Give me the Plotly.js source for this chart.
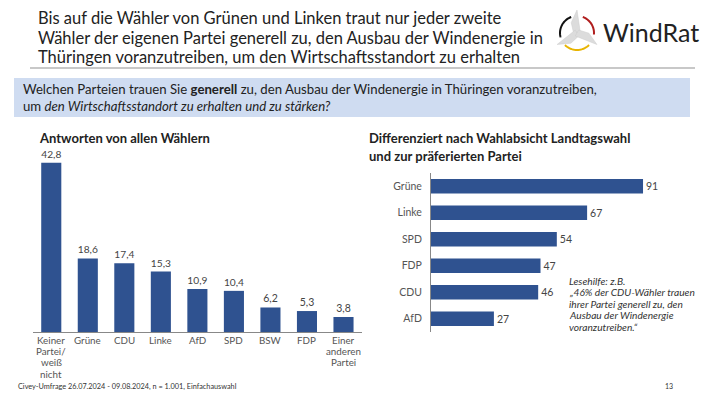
<!DOCTYPE html>
<html><head><meta charset="utf-8">
<script src="https://cdn.plot.ly/plotly-3.0.1.min.js"></script>
<style>html,body{margin:0;padding:0;background:#fff}#chart{width:710px;height:399px}</style>
</head><body><div id="chart"></div>
<script>
// Left chart: answers from all voters
const allCategories = ["Keiner<br>Partei/<br>weiß<br>nicht", "Grüne", "CDU", "Linke", "AfD", "SPD", "BSW", "FDP", "Einer<br>anderen<br>Partei"];
const allValues = [42.8, 18.6, 17.4, 15.3, 10.9, 10.4, 6.2, 5.3, 3.8];
// Right chart: by party preference
const partyCategories = ["Grüne", "Linke", "SPD", "FDP", "CDU", "AfD"];
const partyValues = [91, 67, 54, 47, 46, 27];
// Reading aid text
const readingAid = ["Lesehilfe: z.B.", "„46% der CDU-Wähler trauen", "ihrer Partei generell zu, den", "Ausbau der Windenergie", "voranzutreiben.“"];

const W = 710, H = 399;
const px = x => x / W;
const py = y => 1 - y / H;
const BAR = "#2f5290";
const FONT = "Lato, 'Open Sans', sans-serif";

const traces = [
  {
    type: "bar", x: allCategories, y: allValues, xaxis: "x", yaxis: "y",
    marker: {color: BAR}, text: allValues.map(v => v.toFixed(1).replace(".", ",")),
    textposition: "outside", cliponaxis: false,
    textfont: {family: FONT, size: 10.5, color: "#444"}, hoverinfo: "skip"
  },
  {
    type: "bar", orientation: "h", y: partyCategories, x: partyValues, xaxis: "x2", yaxis: "y2",
    marker: {color: BAR}, text: partyValues.map(String),
    textposition: "outside", cliponaxis: false,
    textfont: {family: FONT, size: 10.5, color: "#444"}, hoverinfo: "skip"
  }
];

function arcPath(cx, cy, r, a0, a1, n) {
  let s = "";
  for (let i = 0; i <= n; i++) {
    const a = (a0 + (a1 - a0) * i / n) * Math.PI / 180;
    const x = cx + r * Math.cos(a), y = cy - r * Math.sin(a);
    s += (i ? " L " : "M ") + px(x) + "," + py(y);
  }
  return s;
}
function polyPath(pts) {
  return pts.map((p, i) => (i ? "L " : "M ") + px(p[0]) + "," + py(p[1])).join(" ") + " Z";
}
const lcx = 577, lcy = 33, lr = 17;
function blade(angleDeg) {
  const a = angleDeg * Math.PI / 180, b = (angleDeg + 90) * Math.PI / 180;
  const L = 23, w = 3.4;
  const tip = [lcx + L * Math.cos(a), lcy - L * Math.sin(a)];
  const b1 = [lcx + w * Math.cos(b), lcy - w * Math.sin(b)];
  const b2 = [lcx - w * Math.cos(b), lcy + w * Math.sin(b)];
  const mid = [lcx + L * 0.45 * Math.cos(a) + 1.7 * w * Math.cos(b), lcy - L * 0.45 * Math.sin(a) - 1.7 * w * Math.sin(b)];
  return polyPath([b2, b1, mid, tip]);
}

const shapes = [
  {type: "line", xref: "paper", yref: "paper", x0: px(30), x1: px(695), y0: py(68), y1: py(68), line: {color: "#c8c8c8", width: 2}},
  {type: "rect", xref: "paper", yref: "paper", x0: px(14), x1: px(690), y0: py(117), y1: py(78), fillcolor: "#cfdcf1", line: {width: 0}, layer: "below"},
  {type: "path", xref: "paper", yref: "paper", path: arcPath(lcx, lcy, lr, 110, 195, 20), line: {color: "#111", width: 2}},
  {type: "path", xref: "paper", yref: "paper", path: arcPath(lcx, lcy, lr, 70, -5, 20), line: {color: "#b01e1e", width: 2}},
  {type: "path", xref: "paper", yref: "paper", path: arcPath(lcx, lcy, lr, 225, 315, 20), line: {color: "#e8b400", width: 2}},
  {type: "path", xref: "paper", yref: "paper", path: blade(90), fillcolor: "#dcdcdc", line: {color: "#cccccc", width: 0.5}},
  {type: "path", xref: "paper", yref: "paper", path: blade(210), fillcolor: "#dcdcdc", line: {color: "#cccccc", width: 0.5}},
  {type: "path", xref: "paper", yref: "paper", path: blade(330), fillcolor: "#dcdcdc", line: {color: "#cccccc", width: 0.5}}
];

const ann = (text, x, y, size, opts = {}) => Object.assign({
  text, xref: "paper", yref: "paper", x: px(x), y: py(y), xanchor: "left", yanchor: "middle",
  showarrow: false, align: "left", font: {family: FONT, size, color: "#222"}
}, opts);

const annotations = [
  ann("Bis auf die Wähler von Grünen und Linken traut nur jeder zweite", 36, 18, 16.5),
  ann("Wähler der eigenen Partei generell zu, den Ausbau der Windenergie in", 36, 38, 16.5),
  ann("Thüringen voranzutreiben, um den Wirtschaftsstandort zu erhalten", 36, 57, 16.5),
  ann("WindRat", 601, 32, 25),
  ann("Welchen Parteien trauen Sie <b>generell</b> zu, den Ausbau der Windenergie in Thüringen voranzutreiben,", 21, 89, 13.2),
  ann("um <i>den Wirtschaftsstandort zu erhalten und zu stärken?</i>", 21, 106, 13.2),
  ann("<b>Antworten von allen Wählern</b>", 37, 138, 13),
  ann("<b>Differenziert nach Wahlabsicht Landtagswahl</b>", 367, 138, 13),
  ann("<b>und zur präferierten Partei</b>", 367, 156, 13),
  ann("Civey-Umfrage 26.07.2024 - 09.08.2024, n = 1.001, Einfachauswahl", 16, 386, 7.3, {font: {family: FONT, size: 7.3, color: "#333"}}),
  ann("13", 663, 386, 7, {font: {family: FONT, size: 7, color: "#333"}})
];
readingAid.forEach((line, i) => annotations.push(
  ann("<i>" + line + "</i>", 568, 281 + i * 11.4, 10.2, {font: {family: FONT, size: 10.2, color: "#333"}, borderpad: 0})));
// multi-line category labels under the left chart, placed on the category axis
allCategories.forEach(cat => cat.split("<br>").forEach((line, i) => annotations.push({
  text: line, xref: "x", yref: "paper", x: cat, y: py(340 + i * 11.2), xanchor: "center", yanchor: "middle",
  showarrow: false, borderpad: 0, font: {family: FONT, size: 9.8, color: "#555"}
})));

const layout = {
  width: W, height: H, margin: {l: 0, r: 0, t: 0, b: 0},
  paper_bgcolor: "#fff", plot_bgcolor: "rgba(0,0,0,0)", showlegend: false, bargap: 0.45,
  font: {family: FONT, color: "#555"},
  xaxis: {domain: [px(33), px(362)], type: "category", showline: true, linecolor: "#888", linewidth: 1,
    ticks: "", showticklabels: false, showgrid: false, zeroline: false, fixedrange: true},
  yaxis: {domain: [py(332), py(154)], range: [0, 45], visible: false, fixedrange: true},
  xaxis2: {domain: [px(431), px(664)], anchor: "y2", range: [0, 100], visible: false, fixedrange: true},
  yaxis2: {domain: [py(332), py(173)], anchor: "x2", type: "category", autorange: "reversed",
    showline: true, linecolor: "#888", linewidth: 1, ticks: "outside", ticklen: 6, tickcolor: "rgba(0,0,0,0)",
    showgrid: false, zeroline: false, tickfont: {family: FONT, size: 10.5, color: "#555"}, fixedrange: true},
  shapes, annotations
};
Plotly.newPlot("chart", traces, layout, {displayModeBar: false, staticPlot: true});
</script>
</body></html>
